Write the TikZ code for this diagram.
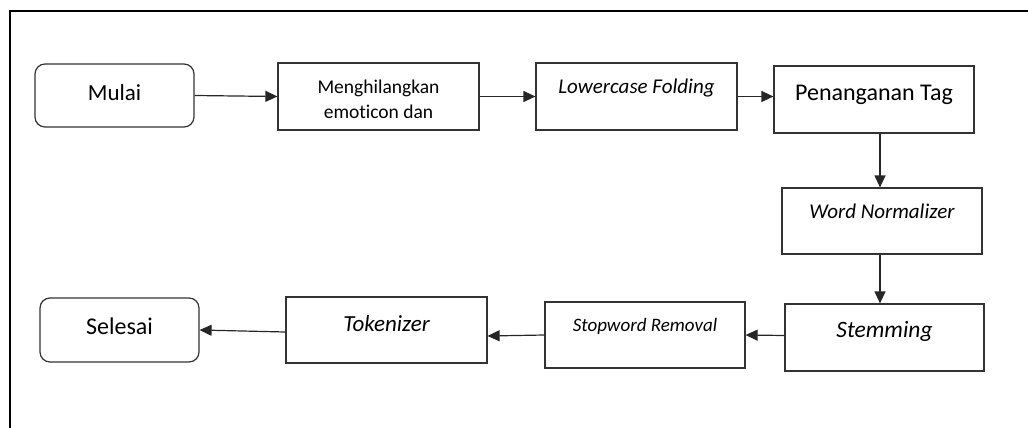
\documentclass[tikz,border=0pt]{standalone}
\usepackage{fontspec}
\setmainfont{Carlito}[Ligatures=CommonOff]
\usetikzlibrary{arrows.meta,calc}
\tikzset{
  box/.style={draw=black!80, line width=1.2pt, rectangle, inner sep=0pt},
  rbox/.style={box, rounded corners=10pt},
  lbl/.style={anchor=base, inner sep=0pt},
  arr/.style={draw=black!85, line width=1.2pt, -{Triangle[length=12pt,width=11pt]}},
  frame/.style={draw=black, line width=1.6pt}
}
\newcommand{\fs}[1]{\fontsize{#1}{#1}\selectfont}
\begin{document}
\begin{tikzpicture}[x=1pt,y=-1pt]
\useasboundingbox (0,0) rectangle (1028,428);
% frame (top and left only)
\coordinate (fr1) at (1028,11);
\coordinate (fr2) at (10,11);
\coordinate (fr3) at (10,428);
\draw[frame] (fr1) -- (fr2) -- (fr3);
% boxes
\node[rbox, minimum width=159pt, minimum height=63pt] (mulai) at (114.5,95.5) {};
\node[box, minimum width=201pt, minimum height=67pt] (meng) at (378.5,96.5) {};
\node[box, minimum width=201pt, minimum height=67pt] (lower) at (636.5,96.5) {};
\node[box, minimum width=200pt, minimum height=67pt] (pen) at (874,99.5) {};
\node[box, minimum width=200pt, minimum height=66pt] (wn) at (882,221) {};
\node[box, minimum width=199pt, minimum height=67pt] (stem) at (884.5,337.5) {};
\node[box, minimum width=200pt, minimum height=66pt] (stop) at (645,335) {};
\node[box, minimum width=201pt, minimum height=66pt] (tok) at (386.5,330) {};
\node[rbox, minimum width=159pt, minimum height=64pt] (sel) at (119.5,330) {};
% texts
\node[lbl] (mulaiT) at (114.5,100) {\fs{23}Mulai};
\node[lbl] (mengT1) at (378.5,93) {\fs{19.5}Menghilangkan};
\node[lbl] (mengT2) at (378.5,118) {\fs{19.5}emoticon dan};
\node[lbl] (lowerT) at (636.5,93) {\fs{21}\itshape Lowercase Folding};
\node[lbl] (penT) at (874,100) {\fs{24}Penanganan Tag};
\node[lbl] (wnT) at (882,218) {\fs{21}\itshape Word Normalizer};
\node[lbl] (stemT) at (884.5,337) {\fs{23.5}\itshape Stemming};
\node[lbl] (stopT) at (645,331) {\fs{19}\itshape Stopword Removal};
\node[lbl] (tokT) at (386.5,331) {\fs{23}\itshape Tokenizer};
\node[lbl] (selT) at (119.5,334) {\fs{24}Selesai};
% connectors
\draw[arr] (mulai.east) -- (meng.west);
\draw[arr] (meng.east) -- (lower.west);
\draw[arr] (lower.east) -- (lower.east -| pen.west);
\draw[arr] ([xshift=6pt]pen.south) -- ([xshift=-2pt]wn.north);
\draw[arr] ([xshift=-2pt]wn.south) -- ([xshift=-4.5pt]stem.north);
\draw[arr] ([yshift=2pt]stem.west) -- (stop.east);
\draw[arr] (stop.west) -- ([yshift=-6pt]tok.east);
\draw[arr] ([yshift=-2pt]tok.west) -- (sel.east);
\end{tikzpicture}
\end{document}
